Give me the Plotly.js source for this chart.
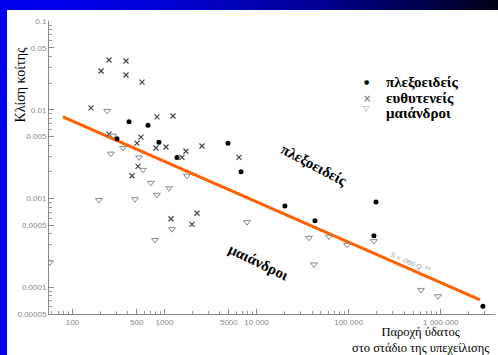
<!DOCTYPE html>
<html>
<head>
<meta charset="utf-8">
<script src="https://cdn.plot.ly/plotly-3.0.1.min.js"></script>
<style>
body{margin:0;background:#fff;}
#wrap{position:relative;width:498px;height:355px;background:#fff;overflow:hidden;}
#top{position:absolute;left:0;top:0;width:498px;height:10px;background:linear-gradient(to right,#0000f8 0%,#0000d0 35%,#000090 65%,#000018 100%);}
#left{position:absolute;left:0;top:0;width:7px;height:355px;background:#0000f0;}
#chart{position:absolute;left:0;top:0;width:498px;height:355px;}
</style>
</head>
<body>
<div id="wrap"><div id="top"></div><div id="left"></div><div id="chart"></div></div>
<script>
// Braided (πλεξοειδείς)
const braidedQ = [412, 662, 305, 871, 1367, 4890, 6780, 20300, 43000, 198000, 188000, 2870000];
const braidedS = [0.0073, 0.0067, 0.0047, 0.0043, 0.0029, 0.0042, 0.0020, 0.00082, 0.00056, 0.00091, 0.00038, 0.000061];
// Straight (ευθυτενείς)
const straightQ = [159, 205, 250, 382, 382, 570, 829, 1237, 250, 556, 502, 809, 1038, 1549, 1711, 2553, 6440, 516, 444, 2253, 1177, 1989];
const straightS = [0.0105, 0.0273, 0.0363, 0.0354, 0.0246, 0.0205, 0.0083, 0.0085, 0.0053, 0.0049, 0.0042, 0.0037, 0.0038, 0.0029, 0.0034, 0.0039, 0.0029, 0.0023, 0.0018, 0.00068, 0.00059, 0.00051];
// Meandering (μαιάνδροι)
const meanderQ = [238, 276, 354, 262, 528, 584, 1755, 713, 1119, 829, 194, 478, 1206, 788, 57, 7870, 37100, 61100, 95900, 42000, 188000, 610000, 933000];
const meanderS = [0.0097, 0.0051, 0.0037, 0.0032, 0.0029, 0.0021, 0.0018, 0.0015, 0.0013, 0.0011, 0.00096, 0.00098, 0.00045, 0.00034, 0.00019, 0.00054, 0.00036, 0.00037, 0.00030, 0.00018, 0.00033, 0.000093, 0.000079];
// Threshold line
const fitQ = [79, 2670000];
const fitS = [0.0083, 0.000072];

const xTickVals = [100, 500, 1000, 5000, 10000, 100000, 1000000];
const xTickText = ["100", "500", "1000", "5000", "10 000", "100 000", "1 000 000"];
const yTickVals = [0.1, 0.05, 0.01, 0.005, 0.001, 0.0005, 0.0001, 0.00005];
const yTickText = ["0.1", "0.05", "0.01", "0.005", "0.001", "0.0005", "0.0001", "0.00005"];

const names = ["πλεξοειδείς", "ευθυτενείς", "μαιάνδροι"];
const legendSymbols = ["●", "×", "▽"];
const legendSymbolColors = ["#000", "#666", "#999"];
const legendSymbolSizes = [6, 10, 8];

const traces = [
  {x: fitQ, y: fitS, mode: "lines", line: {color: "#ff6000", width: 3}, showlegend: false, hoverinfo: "skip"},
  {x: braidedQ, y: braidedS, mode: "markers", name: names[0],
   marker: {symbol: "circle", size: 5, color: "#000"}},
  {x: straightQ, y: straightS, mode: "markers", name: names[1],
   marker: {symbol: "x-thin-open", size: 5, color: "#444", line: {width: 1.2, color: "#444"}}},
  {x: meanderQ, y: meanderS, mode: "markers", name: names[2],
   marker: {symbol: "triangle-down-open", size: 6, color: "#888", line: {width: 1, color: "#888"}}}
];

const tickFont = {family: "Liberation Sans, Arial, sans-serif", size: 8, color: "#888"};
const serif = "Liberation Serif, Times New Roman, serif";

// legend drawn as annotations (tight line spacing as in the reference)
const legY = [0.792, 0.737, 0.686];
const legSymY = [0.792, 0.737, 0.703];
const legendAnn = [];
names.forEach((n, i) => {
  legendAnn.push({text: legendSymbols[i], xref: "paper", yref: "paper", x: 0.713, y: legSymY[i],
    showarrow: false, xanchor: "center", yanchor: "middle",
    font: {family: "DejaVu Sans, sans-serif", size: legendSymbolSizes[i], color: legendSymbolColors[i]}});
  legendAnn.push({text: "<b>" + n + "</b>", xref: "paper", yref: "paper", x: 0.751, y: legY[i],
    showarrow: false, xanchor: "left", yanchor: "middle",
    font: {family: serif, size: 15, color: "#000"}});
});

const layout = {
  width: 498, height: 355,
  margin: {l: 49, r: 3, t: 21, b: 41},
  paper_bgcolor: "rgba(0,0,0,0)",
  plot_bgcolor: "rgba(0,0,0,0)",
  showlegend: false,
  xaxis: {type: "log", range: [1.746, 6.589], showgrid: false, zeroline: false,
    showline: true, linecolor: "#888", linewidth: 1,
    tickmode: "array", tickvals: xTickVals, ticktext: xTickText,
    ticks: "inside", ticklen: 5, tickcolor: "#888", tickfont: tickFont,
    minor: {dtick: "D1", ticks: "inside", ticklen: 3, tickcolor: "#999", showgrid: false}},
  yaxis: {type: "log", range: [-4.303, -1], showgrid: false, zeroline: false,
    showline: true, linecolor: "#888", linewidth: 1,
    tickmode: "array", tickvals: yTickVals, ticktext: yTickText,
    ticks: "inside", ticklen: 5, tickcolor: "#888", tickfont: tickFont,
    minor: {dtick: "D1", ticks: "inside", ticklen: 3, tickcolor: "#999", showgrid: false}},
  annotations: [
    {text: "Κλίση κοίτης", xref: "paper", yref: "paper", x: -0.065, y: 0.78,
     textangle: -90, showarrow: false, xanchor: "center", yanchor: "middle",
     font: {family: serif, size: 14, color: "#000"}},
    {text: "Παροχή ύδατος<br>στο στάδιο της υπεχείλισης", xref: "paper", yref: "paper",
     x: 0.834, y: -0.089, showarrow: false, xanchor: "center", yanchor: "middle",
     font: {family: serif, size: 12.5, color: "#000"}},
    {text: "<b>πλεξοειδείς</b>", xref: "paper", yref: "paper", x: 0.594, y: 0.509, textangle: 28,
     showarrow: false, xanchor: "center", yanchor: "middle",
     font: {family: serif, size: 15, color: "#000"}},
    {text: "<b>μαιάνδροι</b>", xref: "paper", yref: "paper", x: 0.469, y: 0.177, textangle: 26,
     showarrow: false, xanchor: "center", yanchor: "middle",
     font: {family: serif, size: 15, color: "#000"}},
    {text: "S = .060 Q<sup>-.44</sup>", xref: "paper", yref: "paper", x: 0.809, y: 0.177, textangle: 24,
     showarrow: false, xanchor: "center", yanchor: "middle",
     font: {family: "Liberation Sans, Arial, sans-serif", size: 7, color: "#999"}}
  ].concat(legendAnn)
};

Plotly.newPlot("chart", traces, layout, {staticPlot: true, displayModeBar: false});
</script>
</body>
</html>
